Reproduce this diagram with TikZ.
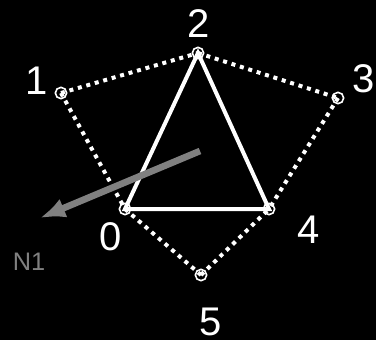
\documentclass[tikz,border=0pt]{standalone}
\usepackage{fontspec}
\setmainfont{Liberation Sans}
\usepackage{tikz}
\usetikzlibrary{calc,arrows.meta}
\usetikzlibrary{positioning}
\definecolor{fig-bg}{HTML}{000000}
\definecolor{fig-line}{HTML}{FFFFFF}
\definecolor{fig-grey}{HTML}{808080}

\begin{document}
\begin{tikzpicture}[x=0.75pt, y=-0.75pt, >=latex]
    % Background
    \fill[fig-bg] (0,0) rectangle (376,340);
    \useasboundingbox (0,0) rectangle (376,340);

    % Vertices
    \foreach \n/\x/\y in {0/125/209, 1/61/93, 2/198/53, 3/338/98, 4/269/209, 5/201/275} {
        \coordinate (v\n) at (\x,\y);
    }

    % Outer ring (dotted)
    \foreach \a/\b in {1/2, 2/3, 1/0, 3/4, 0/5, 5/4} {
        \draw[fig-line, line width=3pt, dash pattern=on 3pt off 3.6pt] (v\a) -- (v\b);
    }

    % Triangle
    \draw[fig-line, line width=3pt, line join=miter] (v0) -- (v2) -- (v4) -- cycle;

    % Vertex markers
    \foreach \n in {0,...,5} {
        \node[circle, draw=fig-line, line width=1.2pt, minimum size=8.5pt, inner sep=0pt] (c\n) at (v\n) {};
    }

    % Labels
    \foreach \n/\x/\y in {0/111/237, 1/37/81, 2/199/24, 3/364/79, 4/309/230, 5/211/322} {
        \node[fig-line, font=\fontsize{30}{30}\selectfont, inner sep=0pt] (l\n) at (\x,\y) {\n};
    }

    % Normal direction
    \coordinate (nstart) at (200,151);
    \coordinate (ntip) at (40,218);
    \draw[fig-grey, line width=5pt, -{Latex[length=19pt, width=15pt]}] (nstart) -- (ntip);
    \node[fig-grey, font=\fontsize{19}{19}\selectfont, inner sep=0pt] (n1) at (29,262) {N1};
\end{tikzpicture}
\end{document}
